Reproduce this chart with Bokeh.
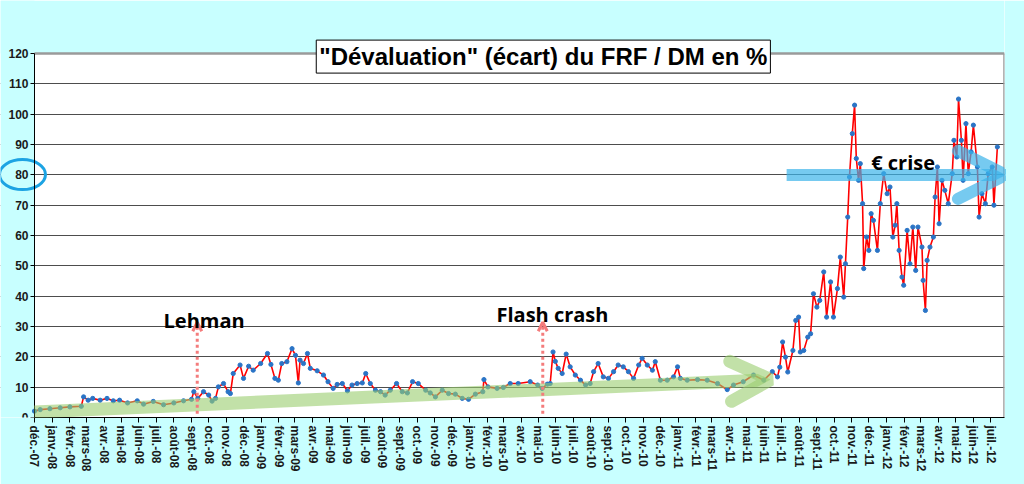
import pandas as pd
from bokeh.plotting import figure
from bokeh.models import Range1d, FixedTicker, Label, Arrow, OpenHead, BoxAnnotation
from bokeh.embed import file_html
from bokeh.resources import INLINE

# ---- data ----
dates = [
    "2007-12-01", "2007-12-11", "2007-12-28", "2008-01-15", "2008-02-01", "2008-02-21", "2008-02-25",
    "2008-03-04", "2008-03-12", "2008-03-25", "2008-04-06", "2008-04-17", "2008-04-28", "2008-05-12",
    "2008-05-29", "2008-06-09", "2008-06-26", "2008-07-14", "2008-08-01", "2008-08-18", "2008-09-01",
    "2008-09-05", "2008-09-12", "2008-09-22", "2008-10-01", "2008-10-07", "2008-10-13", "2008-10-18",
    "2008-10-27", "2008-11-04", "2008-11-08", "2008-11-13", "2008-11-25", "2008-12-01", "2008-12-10",
    "2008-12-18", "2008-12-31", "2009-01-12", "2009-01-18", "2009-01-25", "2009-01-31", "2009-02-06",
    "2009-02-15", "2009-02-24", "2009-03-02", "2009-03-07", "2009-03-10", "2009-03-16", "2009-03-23",
    "2009-03-28", "2009-04-09", "2009-04-20", "2009-04-28", "2009-05-07", "2009-05-14", "2009-05-23",
    "2009-06-01", "2009-06-09", "2009-06-18", "2009-06-27", "2009-07-03", "2009-07-11", "2009-07-20",
    "2009-07-29", "2009-08-06", "2009-08-15", "2009-08-26", "2009-09-05", "2009-09-14", "2009-09-23",
    "2009-10-03", "2009-10-16", "2009-10-24", "2009-11-02", "2009-11-14", "2009-11-25", "2009-12-07",
    "2009-12-19", "2009-12-30", "2010-01-11", "2010-01-24", "2010-01-26", "2010-02-02", "2010-02-18",
    "2010-03-01", "2010-03-13", "2010-03-27", "2010-04-17", "2010-04-30", "2010-05-08", "2010-05-17",
    "2010-05-22", "2010-05-27", "2010-05-31", "2010-06-05", "2010-06-12", "2010-06-19", "2010-06-26",
    "2010-07-05", "2010-07-14", "2010-07-23", "2010-07-31", "2010-08-06", "2010-08-14", "2010-08-23",
    "2010-09-01", "2010-09-10", "2010-09-18", "2010-09-27", "2010-10-06", "2010-10-15", "2010-10-24",
    "2010-10-30", "2010-11-08", "2010-11-17", "2010-11-22", "2010-12-01", "2010-12-13", "2010-12-24",
    "2010-12-31", "2011-01-05", "2011-01-17", "2011-02-04", "2011-02-21", "2011-03-11", "2011-03-28",
    "2011-04-08", "2011-04-25", "2011-05-13", "2011-05-31", "2011-06-15", "2011-06-24", "2011-06-28",
    "2011-07-03", "2011-07-08", "2011-07-12", "2011-07-21", "2011-07-26", "2011-07-31", "2011-08-03",
    "2011-08-09", "2011-08-16", "2011-08-21", "2011-08-26", "2011-09-01", "2011-09-06", "2011-09-13",
    "2011-09-18", "2011-09-25", "2011-09-30", "2011-10-07", "2011-10-12", "2011-10-18", "2011-10-21",
    "2011-10-25", "2011-10-28", "2011-11-02", "2011-11-06", "2011-11-09", "2011-11-13", "2011-11-16",
    "2011-11-20", "2011-11-22", "2011-11-27", "2011-12-01", "2011-12-05", "2011-12-09", "2011-12-16",
    "2011-12-21", "2011-12-27", "2012-01-02", "2012-01-07", "2012-01-12", "2012-01-16", "2012-01-19",
    "2012-01-23", "2012-01-28", "2012-01-31", "2012-02-06", "2012-02-11", "2012-02-16", "2012-02-21",
    "2012-02-25", "2012-03-03", "2012-03-05", "2012-03-09", "2012-03-12", "2012-03-17", "2012-03-23",
    "2012-03-26", "2012-03-30", "2012-04-02", "2012-04-07", "2012-04-12", "2012-04-18", "2012-04-25",
    "2012-04-28", "2012-05-03", "2012-05-06", "2012-05-11", "2012-05-14", "2012-05-19", "2012-05-23",
    "2012-05-28", "2012-06-01", "2012-06-08", "2012-06-11", "2012-06-16", "2012-06-22", "2012-06-27",
    "2012-07-04", "2012-07-07", "2012-07-13",
]
values = [
    2.1, 2.6, 2.9, 3.2, 3.5, 3.7, 6.8,
    5.7, 6.3, 5.7, 6.3, 5.5, 5.7, 4.8,
    5.5, 4.4, 5.3, 4.2, 4.8, 5.5, 6.0,
    8.5, 6.3, 8.5, 7.4, 5.4, 6.3, 10.1,
    11.2, 8.5, 7.9, 14.5, 17.3, 12.9, 16.9,
    15.6, 17.8, 21.1, 17.5, 12.9, 12.3, 17.8,
    18.4, 22.7, 20.5, 11.4, 18.9, 17.8, 21.1,
    16.2, 15.4, 14.0, 11.8, 9.6, 10.9, 11.2,
    8.8, 10.7, 11.2, 11.4, 14.5, 11.2, 9.0,
    8.5, 7.4, 9.0, 11.2, 8.5, 8.1, 11.8,
    11.2, 9.0, 8.1, 6.8, 9.0, 7.9, 7.7,
    6.3, 6.0, 7.7, 8.5, 12.5, 10.1, 9.6,
    9.9, 11.2, 11.2, 11.8, 10.7, 9.6, 11.0,
    11.2, 21.6, 18.5, 16.2, 14.5, 20.9, 16.7,
    14.0, 12.3, 10.7, 11.2, 15.1, 17.8, 13.4,
    12.9, 15.1, 17.3, 16.7, 15.1, 12.9, 17.3,
    19.5, 17.3, 15.6, 18.4, 12.3, 12.3, 13.4,
    16.7, 12.9, 12.3, 12.5, 12.3, 11.2, 9.2,
    10.7, 11.8, 14.0, 12.3, 15.1, 13.4, 16.6,
    24.9, 19.9, 15.0, 22.1, 32.0, 33.1, 21.6,
    22.1, 26.5, 27.6, 40.8, 36.4, 38.6, 48.0,
    33.1, 44.7, 33.1, 42.5, 52.9, 39.7, 50.7,
    66.1, 79.3, 93.6, 103.0, 85.4, 78.2, 83.7,
    70.5, 49.1, 59.5, 55.1, 67.2, 65.0, 55.1,
    70.5, 80.4, 73.8, 76.0, 59.5, 63.4, 70.5,
    55.1, 46.3, 43.6, 61.7, 50.7, 62.8, 48.5,
    62.8, 56.2, 45.2, 35.3, 51.8, 56.2, 59.5,
    72.7, 82.6, 63.9, 78.2, 74.9, 70.5, 80.4,
    91.4, 85.9, 105.0, 91.4, 78.2, 96.9, 80.4,
    87.6, 96.4, 82.6, 66.1, 73.8, 70.5, 80.4,
    82.6, 70.0, 89.2,
]

month_names = ["janv.", "févr.", "mars", "avr.", "mai", "juin",
               "juil.", "août", "sept.", "oct.", "nov.", "déc."]
tick_months = list(pd.date_range("2007-12-01", "2012-07-01", freq="MS"))
tick_labels = [f"{month_names[d.month - 1]}-{d.strftime('%y')}" for d in tick_months]
y_ticks = list(range(0, 121, 10))

title_text = '"Dévaluation" (écart) du FRF / DM en %'
events = ["Lehman", "Flash crash", "€ crise"]


def ms(s):
    return pd.Timestamp(s).value / 10**6


x = [pd.Timestamp(d) for d in dates]
tick_ms = [int(ms(d)) for d in tick_months]

t0 = pd.Timestamp("2007-12-01")
x_lo = ms(t0 - pd.Timedelta(days=59.5))     # frame extends into the left margin
x_axis0 = ms(t0)                            # where the value axis sits
x_hi = ms(t0 + pd.Timedelta(days=1698.5))
Y_TOP = 137.5                               # frame extends into the top margin

BG = "#c8ffff"
p = figure(width=1024, height=484, x_axis_type="datetime",
           x_range=Range1d(x_lo, x_hi), y_range=Range1d(0, Y_TOP),
           output_backend="svg", toolbar_location=None,
           background_fill_color="white", border_fill_color=BG,
           min_border_left=0, min_border_right=20,
           min_border_top=0, min_border_bottom=67)
p.outline_line_color = None

# margins inside the frame painted like the border (above the grid, below glyphs)
for kw in (dict(right=x_axis0), dict(bottom=120)):
    p.add_layout(BoxAnnotation(fill_color=BG, fill_alpha=1.0, line_color=None,
                               level="underlay", **kw))

# axes
for ax in (p.xaxis, p.yaxis):
    ax.major_label_text_font = "Liberation Sans"
    ax.major_label_text_font_style = "bold"
    ax.major_label_text_font_size = "12px"
    ax.major_label_text_color = "#1a1a1a"
    ax.axis_line_color = "black"
    ax.major_tick_line_color = "black"
    ax.major_tick_in = 0
    ax.minor_tick_in = 0
    ax.minor_tick_out = 0

p.yaxis.ticker = FixedTicker(ticks=y_ticks)
p.yaxis.fixed_location = x_axis0
p.yaxis.bounds = (0, 120)
p.yaxis.major_tick_out = 4
p.yaxis.major_label_standoff = 2

p.xaxis.ticker = FixedTicker(ticks=tick_ms)
p.xaxis.bounds = (x_axis0, x_hi)
p.xaxis.major_label_overrides = {t: l for t, l in zip(tick_ms, tick_labels)}
p.xaxis.major_label_orientation = "vertical"
p.xaxis.major_tick_out = 5
p.xaxis.major_label_standoff = 3

p.xgrid.visible = False
p.ygrid.ticker = FixedTicker(ticks=y_ticks[1:-1])
p.ygrid.grid_line_color = "#4d4d4d"
p.ygrid.grid_line_width = 1.2

# plot-area border (top and right)
p.segment(x0=[x_axis0, x_hi], y0=[120, 0], x1=[x_hi, x_hi], y1=[120, 120],
          line_color="#9a9a9a", line_width=2.5)

# series
p.line(x, values, line_color="#ff0000", line_width=1.6)
p.scatter(x, values, size=4.2, fill_color="#2a74c6", line_color="#2a74c6")

# ellipse around the "80" tick label
p.ellipse(x=[ms("2007-11-10")], y=[80.1], width=46, height=30,
          width_units="screen", height_units="screen",
          fill_color=None, line_color="#1ca3e3", line_width=3)

# trend arrow (green)
green = "#9acd6e"
p.add_layout(Arrow(x_start=ms("2007-12-01"), y_start=1.8, x_end=ms("2011-06-12"), y_end=12.5,
                   line_color=green, line_alpha=0.6, line_width=13,
                   end=OpenHead(size=40, line_color=green, line_alpha=0.6,
                                line_width=13, line_cap="round")))

# euro crisis arrow (blue)
blue = "#3cb4ea"
p.add_layout(Arrow(x_start=ms("2011-07-10"), y_start=80, x_end=ms("2012-07-28"), y_end=80,
                   line_color=blue, line_alpha=0.7, line_width=12,
                   end=OpenHead(size=48, line_color=blue, line_alpha=0.7,
                                line_width=12, line_cap="round")))

# event arrows (pink dotted)
pink = "#f47c7c"
for d in ["2008-09-11", "2010-05-09"]:
    p.add_layout(Arrow(x_start=ms(d), y_start=1.2, x_end=ms(d), y_end=31.4,
                       line_color=pink, line_width=3, line_dash="3 3",
                       end=OpenHead(size=9, line_color=pink, line_width=3)))

# event labels
for txt, d, yv in zip(events, ["2008-09-23", "2010-05-26", "2012-01-30"], [32.0, 34.0, 84.2]):
    p.add_layout(Label(x=ms(d), y=yv, text=txt, text_font="Open Sans",
                       text_font_style="bold", text_font_size="20px",
                       text_color="black", text_align="center",
                       text_baseline="alphabetic"))

# title box with shadow
for dx, dy, bg, alpha in [(3, -3, "#8c8c8c", 0.0), (0, 0, "white", 1.0)]:
    p.add_layout(Label(x=ms("2010-05-10"), y=119.0, x_offset=dx, y_offset=dy,
                       text=title_text, text_font="Liberation Sans",
                       text_font_style="bold", text_font_size="24px",
                       text_color="black", text_alpha=alpha,
                       text_align="center", text_baseline="middle",
                       background_fill_color=bg, background_fill_alpha=1.0,
                       border_line_color=("black" if alpha else None),
                       border_line_width=1, padding=3))

open("out.html", "w").write(file_html(p, INLINE))
